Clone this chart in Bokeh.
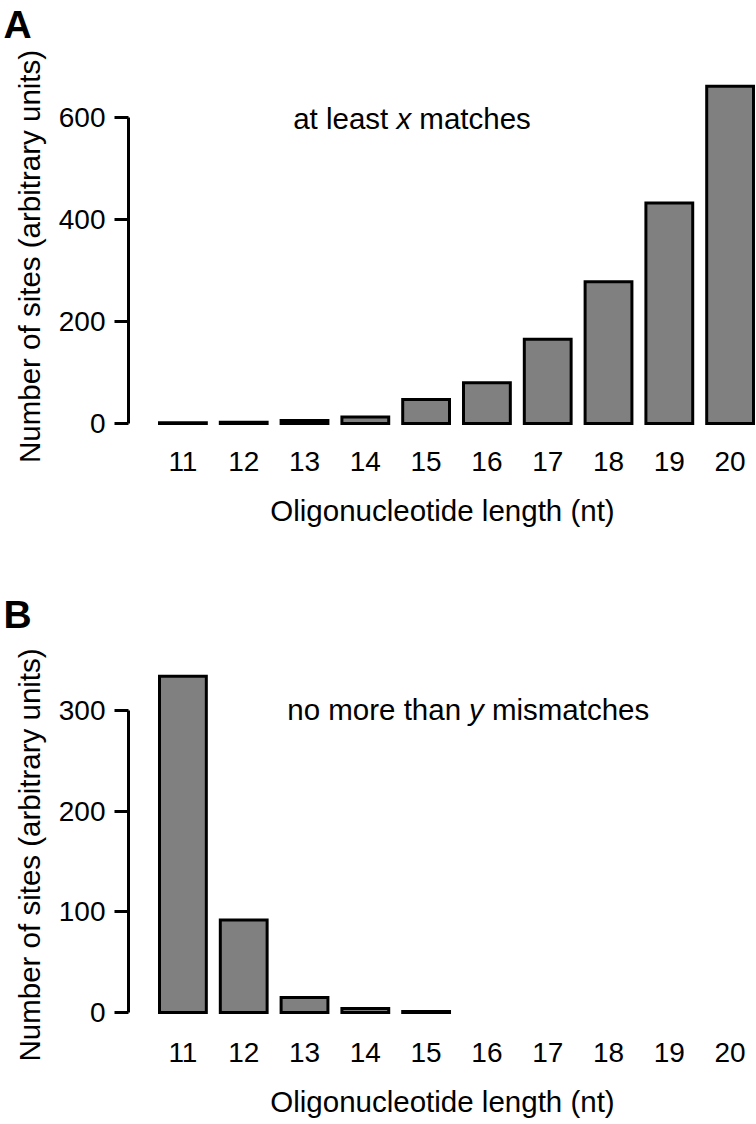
from bokeh.plotting import figure
from bokeh.layouts import column
from bokeh.models import Label, FixedTicker, Range1d, ColumnDataSource, Title
from bokeh.embed import file_html
from bokeh.resources import INLINE

# ---- data ----
lengths = [11, 12, 13, 14, 15, 16, 17, 18, 19, 20]
sites_at_least = [1.5, 2.5, 6, 13, 47, 80, 165, 278, 432, 661]
sites_no_more = [334, 92, 15, 4, 1, 0, 0, 0, 0, 0]
y_ticks_a = [0, 200, 400, 600]
y_ticks_b = [0, 100, 200, 300]
x_title = "Oligonucleotide length (nt)"
y_title = "Number of sites (arbitrary units)"

FONT = "Liberation Sans"
TICK_SIZE = "28px"
TITLE_SIZE = "29.5px"


def make_panel(values, yticks, y0, y1, height, mb_top, mb_bottom,
               letter, letter_standoff, ytitle_offset, x_standoff,
               ann_parts, ann_y):
    p = figure(width=756, height=height, output_backend="svg",
               toolbar_location=None,
               x_range=Range1d(10.105, 20.434), y_range=Range1d(y0, y1),
               min_border_left=127, min_border_right=0,
               min_border_top=mb_top, min_border_bottom=mb_bottom)
    p.outline_line_color = None
    p.xgrid.visible = False
    p.ygrid.visible = False

    xs = [x for x, v in zip(lengths, values) if v > 0]
    vs = [v for v in values if v > 0]
    src = ColumnDataSource(dict(x=xs, top=vs))
    p.vbar(x="x", top="top", bottom=0, width=0.77, source=src,
           fill_color="#808080", line_color="black", line_width=3,
           line_join="miter")

    # y axis
    ya = p.yaxis[0]
    ya.ticker = FixedTicker(ticks=yticks)
    ya.bounds = (yticks[0], yticks[-1])
    ya.minor_tick_line_color = None
    ya.major_tick_out = 14
    ya.major_tick_in = 0
    ya.major_tick_line_width = 3
    ya.axis_line_width = 3
    ya.axis_line_color = "black"
    ya.major_tick_line_color = "black"
    ya.major_label_standoff = 9
    ya.major_label_text_font = FONT
    ya.major_label_text_font_size = TICK_SIZE
    ya.major_label_text_color = "black"

    # x axis
    xa = p.xaxis[0]
    xa.ticker = FixedTicker(ticks=lengths)
    xa.axis_line_color = None
    xa.major_tick_line_color = None
    xa.minor_tick_line_color = None
    xa.major_tick_out = 0
    xa.major_tick_in = 0
    xa.major_label_standoff = x_standoff
    xa.major_label_text_font = FONT
    xa.major_label_text_font_size = TICK_SIZE
    xa.major_label_text_color = "black"
    xa.axis_label = x_title
    xa.axis_label_text_font = FONT
    xa.axis_label_text_font_size = TITLE_SIZE
    xa.axis_label_text_font_style = "normal"
    xa.axis_label_text_color = "black"
    xa.axis_label_standoff = 20

    # y title (rotated, on the left of the tick labels)
    p.add_layout(Title(text=y_title, align="left", offset=ytitle_offset,
                       text_font=FONT, text_font_size=TITLE_SIZE,
                       text_font_style="normal", text_color="black",
                       standoff=20), "left")

    # panel letter
    p.add_layout(Title(text=letter, align="left", offset=-125,
                       text_font=FONT, text_font_size="39px",
                       text_font_style="bold", text_color="black",
                       standoff=letter_standoff), "above")

    # annotation
    for txt, xpos, style in ann_parts:
        p.add_layout(Label(x=xpos, y=ann_y, text=txt, text_font=FONT,
                           text_font_size=TITLE_SIZE, text_font_style=style,
                           text_align="left", text_baseline="alphabetic",
                           text_color="black"))
    return p


pA = make_panel(sites_at_least, y_ticks_a, -25.4, 740.7, 560, 44, 124,
                "A", 0, -26.5, 15,
                [("at least", 12.814, "normal"), ("x", 14.511, "italic"),
                 ("matches", 14.888, "normal")], 598.0)
pB = make_panel(sites_no_more, y_ticks_b, -26.8, 343.7, 564, 106, 85,
                "B", 61, -22, 3,
                [("no more than", 12.716, "normal"), ("y", 15.704, "italic"),
                 ("mismatches", 16.082, "normal")], 301.0)

layout = column(pA, pB, spacing=0)
open("out.html", "w").write(file_html(layout, INLINE))
